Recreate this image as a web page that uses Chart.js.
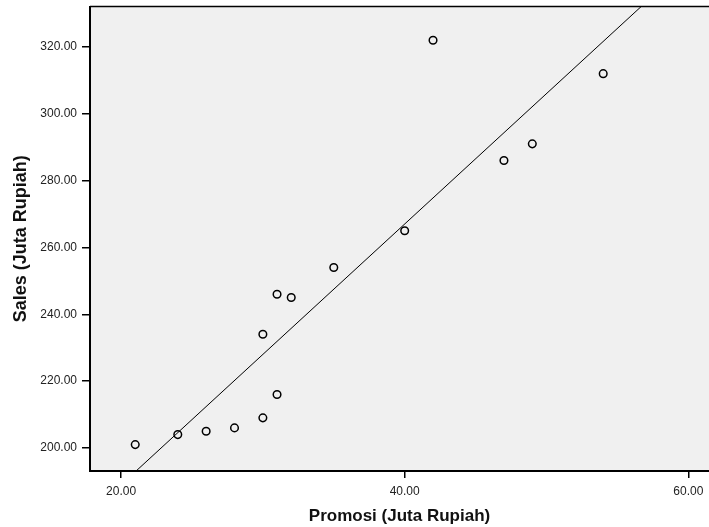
<!DOCTYPE html>
<html>
<head>
<meta charset="utf-8">
<script src="https://cdn.jsdelivr.net/npm/chart.js@4/dist/chart.umd.min.js"></script>
<style>
  html, body { margin: 0; padding: 0; background: #ffffff; }
  #wrap { width: 709px; height: 527px; position: relative; }
</style>
</head>
<body>
<div id="wrap"><canvas id="c"></canvas></div>
<script>
// Data
const promosi = [21, 24, 26, 28, 30, 31, 30, 31, 32, 35, 40, 42, 47, 49, 54];
const sales   = [201, 204, 205, 206, 209, 216, 234, 246, 245, 254, 265, 322, 286, 291, 312];
// Fit line end points (where the line meets the frame)
const fitX = [21.06, 56.68];
const fitY = [193.1, 332.1];
const xTicks = [20, 40, 60];
const yTicks = [200, 220, 240, 260, 280, 300, 320];
const xRange = [17.81, 61.46];
const yRange = [193.1, 332.1];
const xTitle = 'Promosi (Juta Rupiah)';
const yTitle = 'Sales (Juta Rupiah)';

const points = promosi.map((x, i) => ({ x: x, y: sales[i] }));
const fitLine = fitX.map((x, i) => ({ x: x, y: fitY[i] }));

const frame = {
  id: 'frame',
  beforeDraw(chart) {
    const { ctx, chartArea: a } = chart;
    ctx.save();
    ctx.fillStyle = '#f0f0f0';
    ctx.fillRect(a.left, a.top, a.right - a.left, a.bottom - a.top);
    ctx.restore();
  },
  afterDraw(chart) {
    const { ctx, chartArea: a } = chart;
    ctx.save();
    ctx.strokeStyle = '#000';
    ctx.lineWidth = 1.5;
    ctx.beginPath();
    ctx.moveTo(a.left, a.top);
    ctx.lineTo(a.right, a.top);
    ctx.stroke();
    ctx.restore();
  }
};

new Chart(document.getElementById('c'), {
  type: 'scatter',
  data: {
    datasets: [
      {
        data: fitLine,
        showLine: true,
        borderColor: '#000',
        borderWidth: 1,
        pointRadius: 0,
        fill: false,
        order: 1
      },
      {
        data: points,
        showLine: false,
        pointStyle: 'circle',
        pointRadius: 3.8,
        pointBorderWidth: 1.5,
        pointBorderColor: '#000',
        pointBackgroundColor: 'rgba(0,0,0,0)',
        order: 0
      }
    ]
  },
  options: {
    responsive: true,
    maintainAspectRatio: false,
    animation: false,
    layout: { autoPadding: false, padding: { top: 6.5, right: 0, left: 0, bottom: 0 } },
    plugins: { legend: { display: false }, tooltip: { enabled: false } },
    scales: {
      x: {
        type: 'linear',
        min: xRange[0], max: xRange[1],
        afterBuildTicks: s => { s.ticks = xTicks.map(v => ({ value: v })); },
        afterFit: s => { s.height = 56; s.paddingLeft = 0; s.paddingRight = 0; },
        ticks: {
          callback: v => Number(v).toFixed(2),
          font: { family: 'Liberation Sans', size: 12 },
          color: '#222',
          padding: 6,
          maxRotation: 0
        },
        grid: { drawOnChartArea: false, drawTicks: true, tickLength: 7, color: '#000', lineWidth: 1.5 },
        border: { display: true, color: '#000', width: 2 },
        title: {
          display: true, text: xTitle,
          font: { family: 'Liberation Sans', size: 17, weight: 'bold' },
          color: '#111',
          padding: { top: 0, bottom: 0 }
        }
      },
      y: {
        type: 'linear',
        min: yRange[0], max: yRange[1],
        afterBuildTicks: s => { s.ticks = yTicks.map(v => ({ value: v })); },
        afterFit: s => { s.width = 90; s.paddingTop = 0; s.paddingBottom = 0; },
        ticks: {
          callback: v => Number(v).toFixed(2),
          font: { family: 'Liberation Sans', size: 12 },
          color: '#222',
          padding: 5
        },
        grid: { drawOnChartArea: false, drawTicks: true, tickLength: 8, color: '#000', lineWidth: 1.5 },
        border: { display: true, color: '#000', width: 2 },
        title: {
          display: true, text: yTitle,
          font: { family: 'Liberation Sans', size: 18, weight: 'bold' },
          color: '#111',
          padding: { top: 10, bottom: 0 }
        }
      }
    }
  },
  plugins: [frame]
});
</script>
</body>
</html>
